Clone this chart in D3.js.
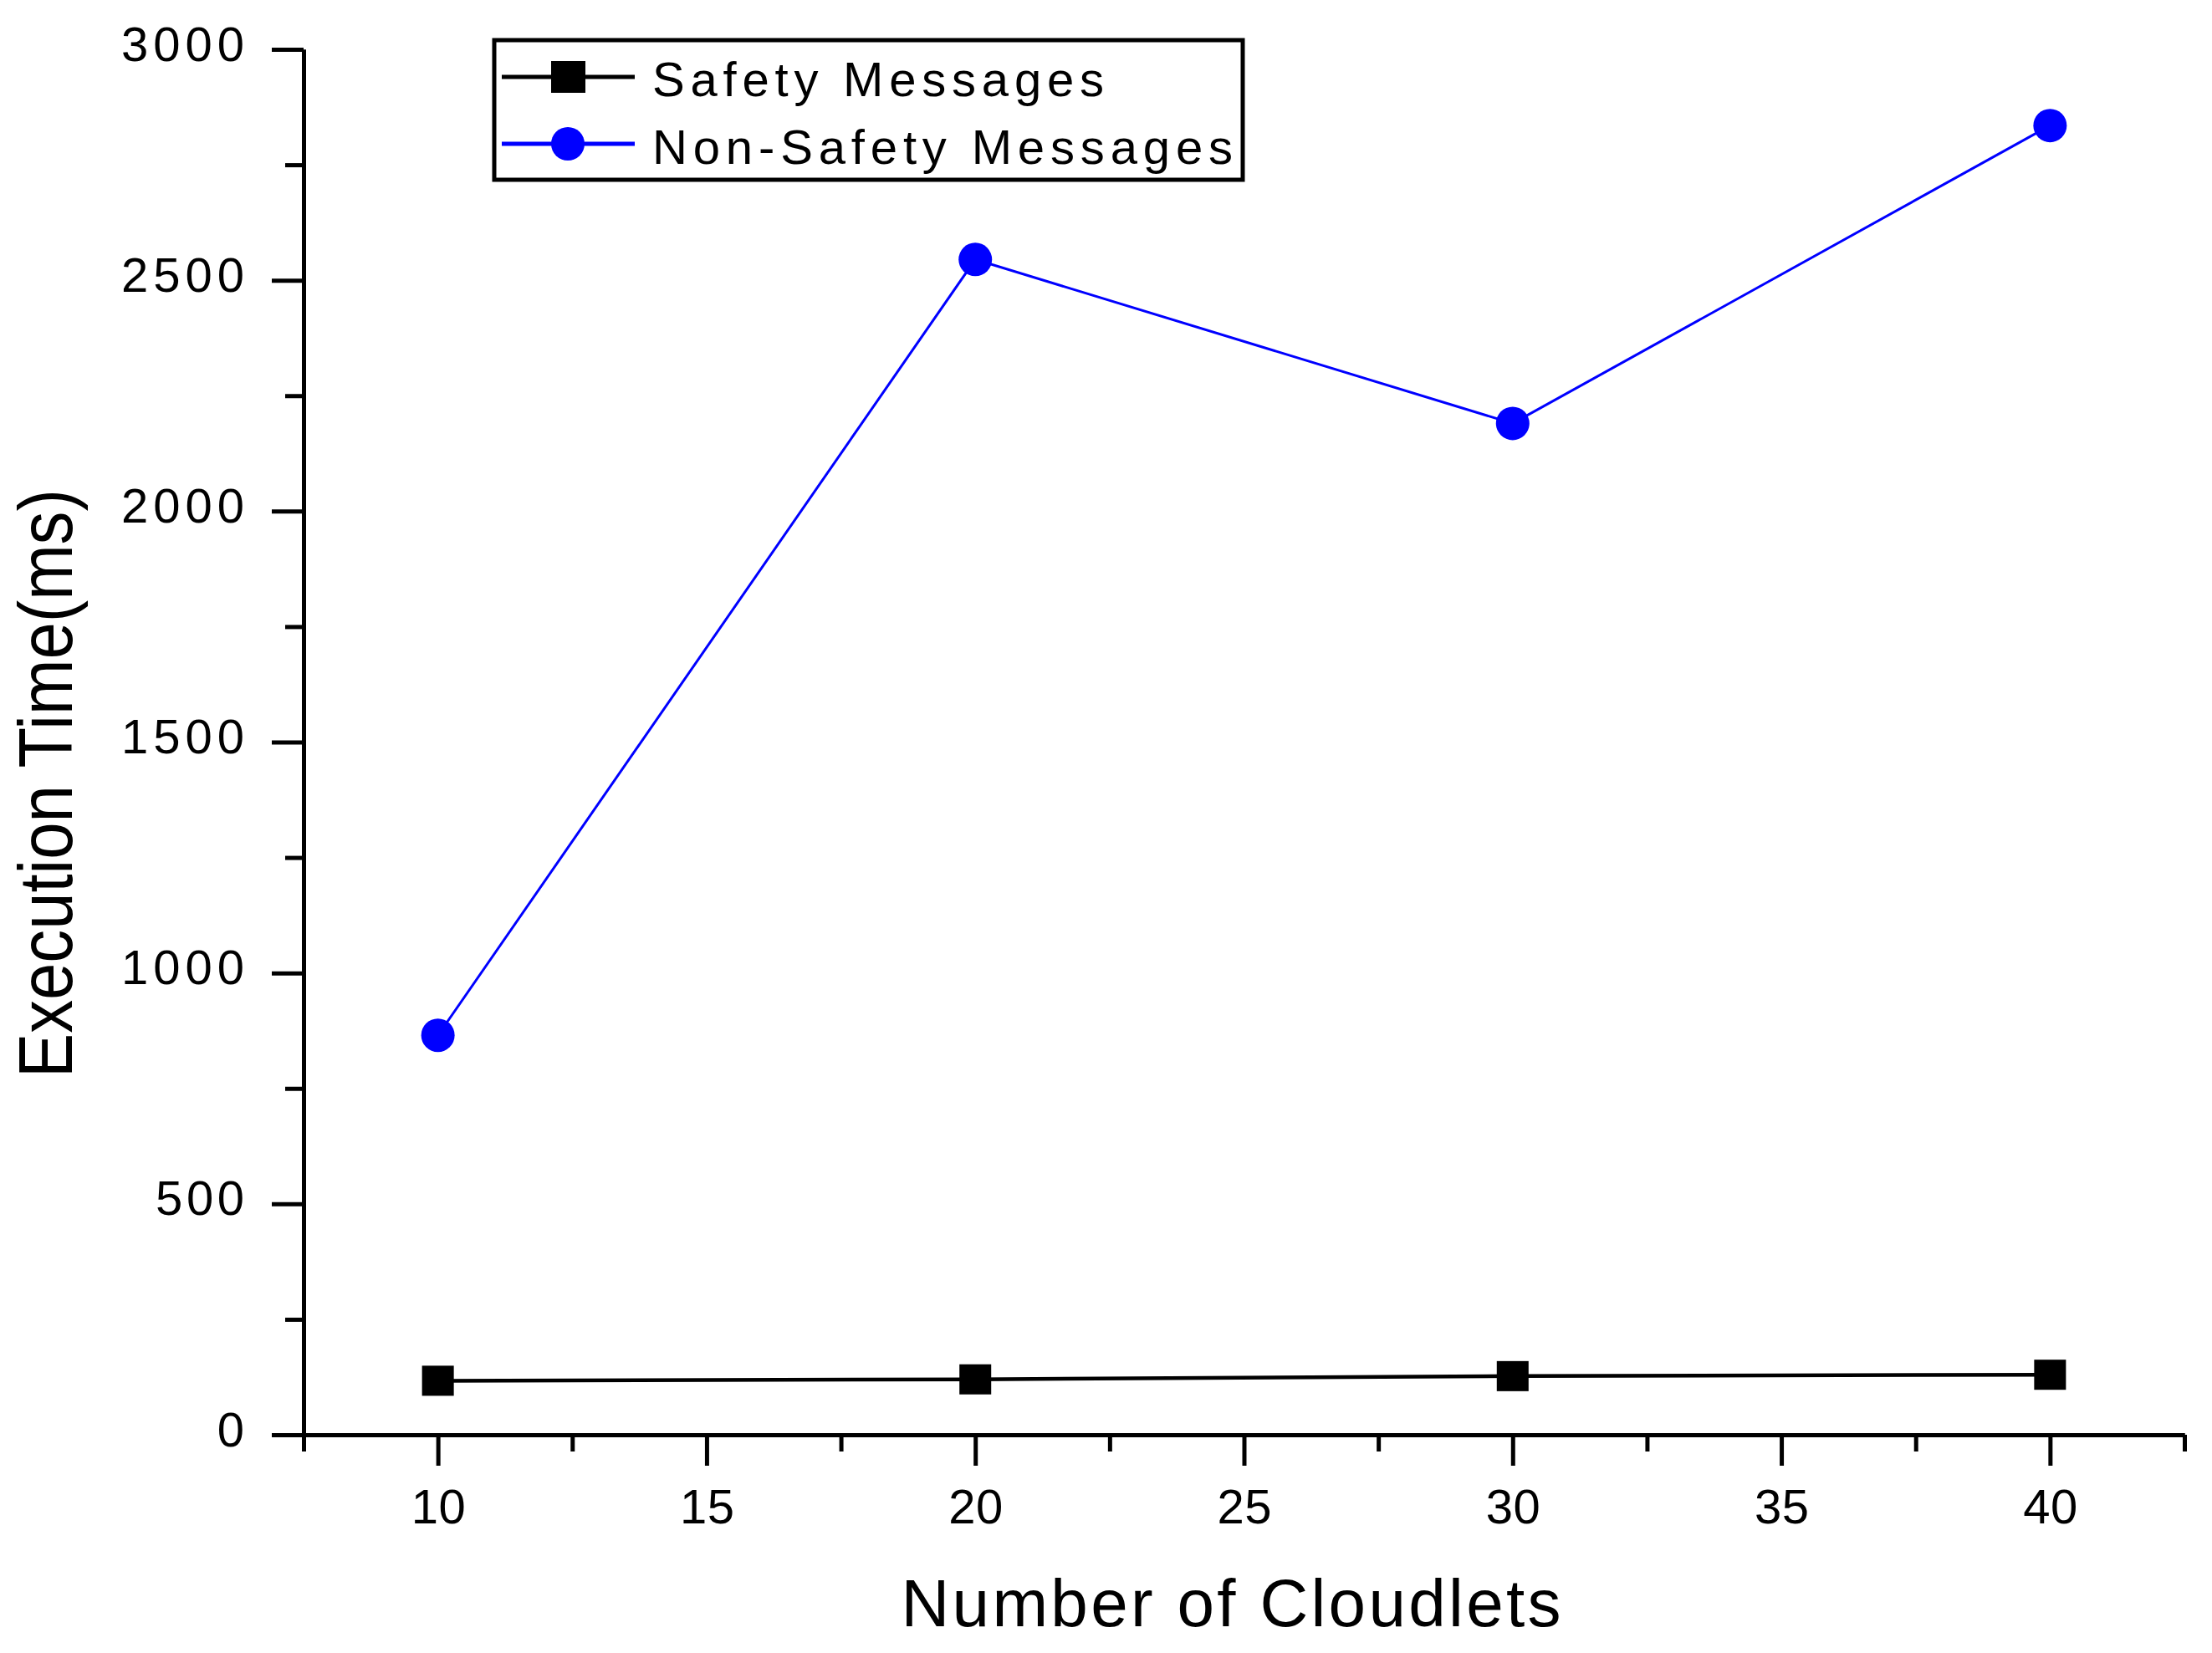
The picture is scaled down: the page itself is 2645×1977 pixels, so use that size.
<!DOCTYPE html>
<html>
<head>
<meta charset="utf-8">
<script src="https://cdn.jsdelivr.net/npm/d3@7"></script>
<style>
  body { margin: 0; background: #fff; }
  text { font-family: "Liberation Sans", Arial, sans-serif; fill: #000; }
</style>
</head>
<body>
<svg id="chart" width="2645" height="1977"></svg>
<script>
// data
var cloudlets = [10, 20, 30, 40];
var safety = [117, 120, 127, 130];
var nonSafety = [865, 2545, 2190, 2835];

var xTicks = [10, 15, 20, 25, 30, 35, 40];
var xMinor = [7.5, 12.5, 17.5, 22.5, 27.5, 32.5, 37.5, 42.5];
var yTicks = [0, 500, 1000, 1500, 2000, 2500, 3000];
var yMinor = [250, 750, 1250, 1750, 2250, 2750];

var seriesNames = ["Safety Messages", "Non-Safety Messages"];

var svg = d3.select("#chart");
svg.append("rect").attr("width", 2645).attr("height", 1977).attr("fill", "#fff");

var x = d3.scaleLinear().domain([7.5, 42.5]).range([363, 2612]);
var y = d3.scaleLinear().domain([0, 3000]).range([1716, 59]);

// label widths in the picture are wider than the font gives, so stretch the spacing
var digitWidth = { 1: 30, 2: 65, 3: 106, 4: 147 };

function styleAxis(g) {
    g.select(".domain").attr("stroke", "#000").attr("stroke-width", 5);
    g.selectAll(".tick line").attr("stroke", "#000").attr("stroke-width", 5);
}

// x axis, minor ticks first
svg.append("g")
    .attr("transform", "translate(0," + y(0) + ")")
    .call(d3.axisBottom(x).tickValues(xMinor).tickSize(20).tickSizeOuter(0).tickFormat(""))
    .call(styleAxis);

svg.append("g")
    .attr("transform", "translate(0," + y(0) + ")")
    .call(d3.axisBottom(x).tickValues(xTicks).tickSize(37).tickSizeOuter(0).tickFormat(d3.format("d")))
    .call(styleAxis)
    .call(function (g) {
        g.selectAll(".tick text")
            .attr("y", 106).attr("dy", null)
            .attr("font-size", 58)
            .attr("textLength", function (d) { return digitWidth[String(d).length]; })
            .attr("lengthAdjust", "spacing");
    });

// y axis
svg.append("g")
    .attr("transform", "translate(" + x(7.5) + ",0)")
    .call(d3.axisLeft(y).tickValues(yMinor).tickSize(22).tickSizeOuter(0).tickFormat(""))
    .call(styleAxis);

svg.append("g")
    .attr("transform", "translate(" + x(7.5) + ",0)")
    .call(d3.axisLeft(y).tickValues(yTicks).tickSize(38).tickSizeOuter(0).tickFormat(d3.format("d")))
    .call(styleAxis)
    .call(function (g) {
        g.selectAll(".tick text")
            .attr("x", -71).attr("y", 13).attr("dy", null)
            .attr("font-size", 58)
            .attr("textLength", function (d) { return digitWidth[String(d).length]; })
            .attr("lengthAdjust", "spacing");
    });

// axis titles
svg.append("text")
    .attr("x", 1472).attr("y", 1945)
    .attr("text-anchor", "middle")
    .attr("font-size", 80)
    .attr("textLength", 789).attr("lengthAdjust", "spacing")
    .text("Number of Cloudlets");

svg.append("text")
    .attr("transform", "translate(86,937)rotate(-90)")
    .attr("text-anchor", "middle")
    .attr("font-size", 90)
    .attr("textLength", 704).attr("lengthAdjust", "spacingAndGlyphs")
    .text("Execution Time(ms)");

var line = d3.line()
    .x(function (d, i) { return x(cloudlets[i]); })
    .y(function (d) { return y(d); });

// Safety series
svg.append("path")
    .datum(safety)
    .attr("d", line)
    .attr("fill", "none").attr("stroke", "#000").attr("stroke-width", 4.5);

svg.selectAll(".sq")
    .data(safety)
    .enter()
    .append("rect")
    .attr("class", "sq")
    .attr("x", function (d, i) { return x(cloudlets[i]) - 19; })
    .attr("y", function (d) { return y(d) - 18; })
    .attr("width", 38).attr("height", 36)
    .attr("fill", "#000");

// Non-safety series
svg.append("path")
    .datum(nonSafety)
    .attr("d", line)
    .attr("fill", "none").attr("stroke", "#0000ff").attr("stroke-width", 3);

svg.selectAll(".dot")
    .data(nonSafety)
    .enter()
    .append("circle")
    .attr("class", "dot")
    .attr("cx", function (d, i) { return x(cloudlets[i]); })
    .attr("cy", function (d) { return y(d); })
    .attr("r", 20)
    .attr("fill", "#0000ff");

// legend
var legend = svg.append("g");
legend.append("rect")
    .attr("x", 591).attr("y", 48).attr("width", 895).attr("height", 167)
    .attr("fill", "#fff").attr("stroke", "#000").attr("stroke-width", 5);

legend.append("line")
    .attr("x1", 600).attr("x2", 759).attr("y1", 92).attr("y2", 92)
    .attr("stroke", "#000").attr("stroke-width", 5);
legend.append("rect")
    .attr("x", 659).attr("y", 73).attr("width", 41).attr("height", 38)
    .attr("fill", "#000");

legend.append("line")
    .attr("x1", 600).attr("x2", 759).attr("y1", 172).attr("y2", 172)
    .attr("stroke", "#0000ff").attr("stroke-width", 5);
legend.append("circle")
    .attr("cx", 679).attr("cy", 172).attr("r", 20)
    .attr("fill", "#0000ff");

legend.append("text")
    .attr("x", 780).attr("y", 115)
    .attr("font-size", 58)
    .attr("textLength", 540).attr("lengthAdjust", "spacing")
    .text(seriesNames[0]);

legend.append("text")
    .attr("x", 780).attr("y", 196)
    .attr("font-size", 58)
    .attr("textLength", 694).attr("lengthAdjust", "spacing")
    .text(seriesNames[1]);
</script>
</body>
</html>
